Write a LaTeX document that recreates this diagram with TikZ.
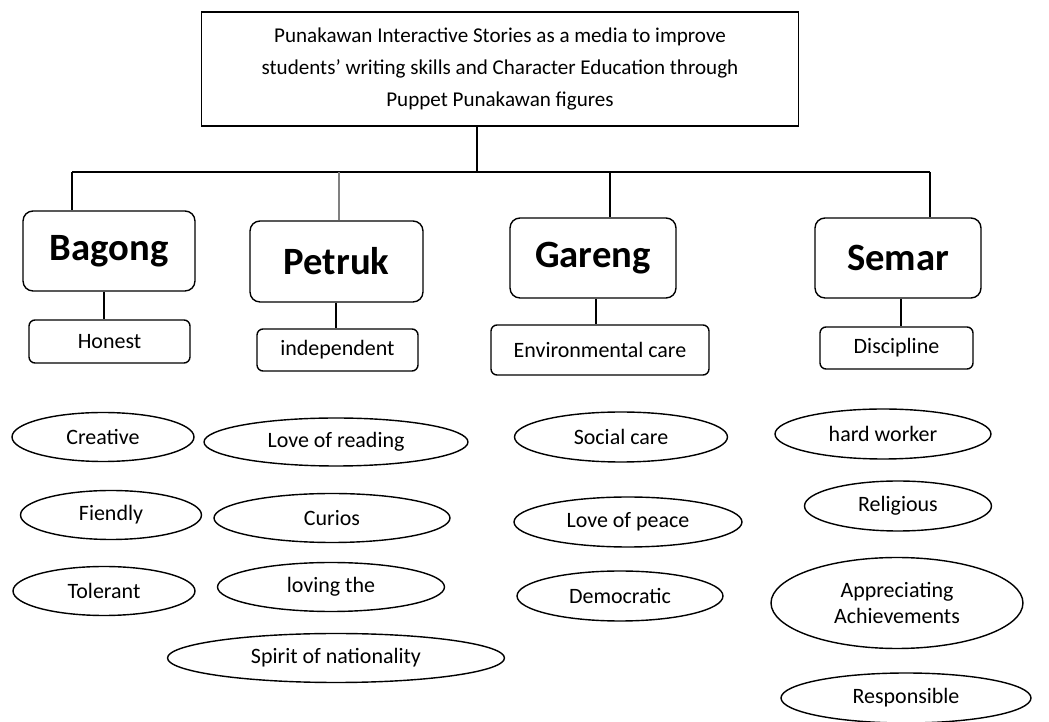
\documentclass[tikz,border=0pt]{standalone}
\usepackage{fontspec}
\setmainfont{Carlito}
\usetikzlibrary{shapes.geometric}
\begin{document}
\begin{tikzpicture}[x=0.02cm, y=-0.02cm, line width=0.8pt,
    titlebox/.style={draw, rectangle, line width=1pt, inner sep=0pt, align=center,
        minimum width=11.94cm, minimum height=2.28cm, font=\fontsize{12}{18}\selectfont},
    namebox/.style={draw, rectangle, rounded corners=0.2cm, inner sep=0pt,
        minimum height=1.6cm, font=\fontsize{22}{26}\selectfont\bfseries},
    traitbox/.style={draw, rectangle, rounded corners=0.12cm, inner sep=0pt,
        minimum height=0.84cm, font=\fontsize{12.5}{15}\selectfont},
    oval/.style={draw, ellipse, inner sep=0pt, minimum height=0.98cm,
        font=\fontsize{12.5}{15}\selectfont}]
            \useasboundingbox (0,0) rectangle (1049,722);
            \node[titlebox] (title) at (500, 69) {Punakawan Interactive Stories as a media to improve\\
                students' writing skills and Character Education through\\
                Puppet Punakawan figures};
            \node[namebox, minimum width=3.44cm] (bagong) at (109, 251) {Bagong};
            \node[namebox, minimum width=3.46cm, minimum height=1.62cm] (petruk) at (336.5, 261.5) {Petruk};
            \node[namebox, minimum width=3.32cm] (gareng) at (593, 258) {Gareng};
            \node[namebox, minimum width=3.32cm] (semar) at (898, 258) {Semar};
            \node[traitbox, minimum width=3.22cm, minimum height=0.86cm] (honest) at (109.5, 341.5) {Honest};
            \node[traitbox, minimum width=3.22cm] (indep) at (337.5, 350) {independent};
            \node[traitbox, minimum width=4.36cm, minimum height=1cm] (envcare) at (600, 350) {Environmental care};
            \node[traitbox, minimum width=3.06cm] (discipline) at (896.5, 348) {Discipline};
            % values under each figure
            \node[oval, minimum width=3.64cm] (creative) at (103, 437) {Creative};
            \node[oval, minimum width=3.62cm] (friendly) at (111, 515) {Fiendly};
            \node[oval, minimum width=3.64cm] (tolerant) at (104, 591) {Tolerant};
            \node[oval, minimum width=5.28cm, minimum height=0.96cm] (reading) at (336, 442) {Love of reading};
            \node[oval, minimum width=4.72cm] (curious) at (332, 518) {Curios};
            \node[oval, minimum width=4.54cm] (loving) at (331, 587) {loving the};
            \node[oval, minimum width=6.74cm] (spirit) at (336, 658) {Spirit of nationality};
            \node[oval, minimum width=4.26cm, minimum height=1cm] (social) at (621, 437) {Social care};
            \node[oval, minimum width=4.56cm, minimum height=1cm] (peace) at (628, 522) {Love of peace};
            \node[oval, minimum width=4.12cm, minimum height=1cm] (democratic) at (620, 596) {Democratic};
            \node[oval, minimum width=4.32cm, minimum height=1cm] (hardworker) at (883, 434) {hard worker};
            \node[oval, minimum width=3.74cm, minimum height=1cm] (religious) at (898, 506) {Religious};
            \node[oval, minimum width=5.04cm, minimum height=1.82cm, align=center] (appreciating) at (897, 603) {Appreciating\\Achievements};
            \node[oval, minimum width=5cm, minimum height=1cm] (responsible) at (906, 698) {Responsible};
            % joints on the bus line
            \coordinate (j0) at (477, 172);
            \coordinate (j1) at (72, 172);
            \coordinate (j2) at (339, 172);
            \coordinate (j3) at (610, 172);
            \coordinate (j4) at (930, 172);
            \coordinate (s1) at (104, 0);
            \coordinate (s2) at (336, 0);
            \coordinate (s3) at (596, 0);
            \coordinate (s4) at (901, 0);
            \draw (title.south -| j0) -- (j0);
            \draw (j1) -- (j4);
            \draw (j1) -- (j1 |- bagong.north);
            \draw[gray] (j2) -- (j2 |- petruk.north);
            \draw (j3) -- (j3 |- gareng.north);
            \draw (j4) -- (j4 |- semar.north);
            \draw (bagong.south -| s1) -- (honest.north -| s1);
            \draw (petruk.south -| s2) -- (indep.north -| s2);
            \draw (gareng.south -| s3) -- (envcare.north -| s3);
            \draw (semar.south -| s4) -- (discipline.north -| s4);
\end{tikzpicture}
\end{document}
